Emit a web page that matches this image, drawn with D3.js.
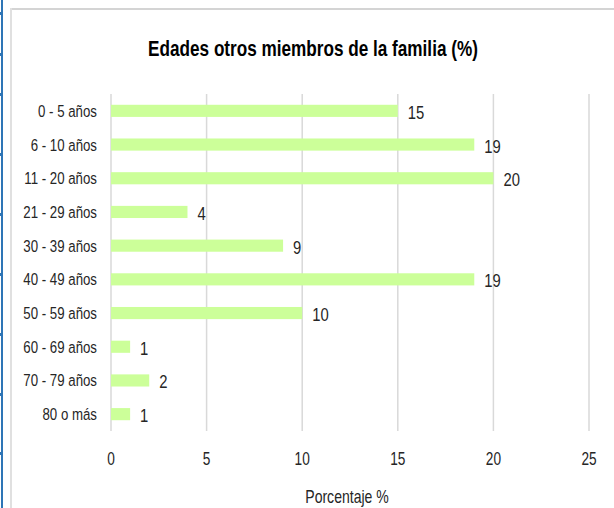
<!DOCTYPE html>
<meta charset="utf-8">
<style>
  body { margin: 0; background: #fff; }
  svg { display: block; }
  text { font-family: "Liberation Sans", Arial, sans-serif; fill: #262626; }
  .title { font-weight: bold; font-size: 22px; fill: #000; }
  .cat { font-size: 17px; }
  .tick { font-size: 17.5px; }
  .val { font-size: 19px; }
  .axtitle { font-size: 18px; }
  .grid { stroke: #d9d9d9; stroke-width: 1.5; }
</style>
<body>
<script src="https://d3js.org/d3.v7.min.js"></script>
<script>
  var categories = ["0 - 5 años", "6 - 10 años", "11 - 20 años", "21 - 29 años", "30 - 39 años",
                    "40 - 49 años", "50 - 59 años", "60 - 69 años", "70 - 79 años", "80 o más"];
  var values = [15, 19, 20, 4, 9, 19, 10, 1, 2, 1];
  var xTicks = [0, 5, 10, 15, 20, 25];
  var titleText = "Edades otros miembros de la familia (%)";
  var xTitle = "Porcentaje %";
  // little marks on the blue edge at the left of the screenshot
  var edgeNotches = [12, 53, 93, 153, 213, 273, 333, 393, 452];

  var width = 614, height = 508;
  var squeeze = 0.78; // narrow the glyphs, the original font is a condensed one

  var svg = d3.select("body").append("svg")
          .attr("width", width)
          .attr("height", height);

  // put text at (x, y) but squeezed horizontally
  var place = function(sel, fx, fy){
    sel.attr("transform", function(d, i){
      return "translate(" + fx(d, i) + "," + fy(d, i) + ") scale(" + squeeze + ",1)";
    });
  };

  // frame bits around the chart
  svg.append("rect").attr("x", 1).attr("y", 0).attr("width", 2).attr("height", height).attr("fill", "#2e75b6");
  svg.selectAll("rect.notch").data(edgeNotches).enter()
          .append("rect")
          .attr("class", "notch")
          .attr("x", 0).attr("y", function(d){ return d; })
          .attr("width", 1).attr("height", 3)
          .attr("fill", "#2e75b6");
  svg.append("rect").attr("x", 10).attr("y", 8).attr("width", width - 10).attr("height", 2).attr("fill", "#d4d4d4");
  svg.append("rect").attr("x", 10).attr("y", 8).attr("width", 2).attr("height", height - 8).attr("fill", "#e0e0e0");

  var x = d3.scaleLinear().domain([0, 25]).range([111, 589]);
  var y = d3.scaleBand().domain(categories).range([94, 431]).paddingInner(0.64).paddingOuter(0.32);

  svg.append("text")
          .attr("class", "title")
          .attr("text-anchor", "middle")
          .text(titleText)
          .call(place, function(){ return 313; }, function(){ return 56; });

  // vertical gridlines
  svg.selectAll("line.grid").data(xTicks).enter()
          .append("line")
          .attr("class", "grid")
          .attr("x1", function(d){ return x(d); })
          .attr("x2", function(d){ return x(d); })
          .attr("y1", 94)
          .attr("y2", 431);

  // tick labels
  svg.selectAll("text.tick").data(xTicks).enter()
          .append("text")
          .attr("class", "tick")
          .attr("text-anchor", "middle")
          .text(function(d){ return d; })
          .call(place, function(d){ return x(d); }, function(){ return 465; });

  svg.append("text")
          .attr("class", "axtitle")
          .attr("text-anchor", "middle")
          .text(xTitle)
          .call(place, function(){ return 347; }, function(){ return 503; });

  // category labels
  svg.selectAll("text.cat").data(categories).enter()
          .append("text")
          .attr("class", "cat")
          .attr("text-anchor", "end")
          .text(function(d){ return d; })
          .call(place, function(){ return 97; }, function(d){ return y(d) + y.bandwidth() / 2 + 6; });

  var rows = categories.map(function(c, i){ return {cat: c, v: values[i]}; });

  svg.selectAll("rect.bar").data(rows).enter()
          .append("rect")
          .attr("class", "bar")
          .attr("x", x(0))
          .attr("y", function(d){ return y(d.cat); })
          .attr("width", function(d){ return x(d.v) - x(0); })
          .attr("height", y.bandwidth())
          .attr("fill", "#ccff99");

  svg.selectAll("text.val").data(rows).enter()
          .append("text")
          .attr("class", "val")
          .text(function(d){ return d.v; })
          .call(place, function(d){ return x(d.v) + 10; }, function(d){ return y(d.cat) + y.bandwidth() / 2 + 8; });
</script>
</body>
